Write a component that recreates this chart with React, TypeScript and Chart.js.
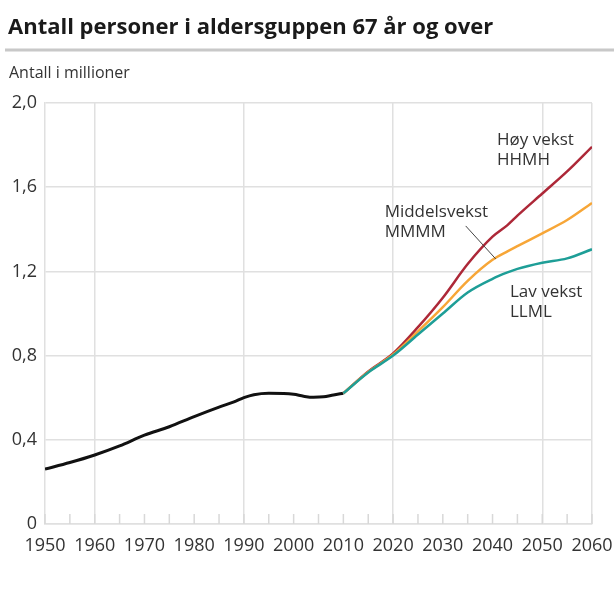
import { useEffect, useRef } from 'react';
import { Chart, registerables } from 'chart.js';

Chart.register(...registerables);

const TITLE = 'Antall personer i aldersguppen 67 år og over';
const Y_TITLE = 'Antall i millioner';

// Historical series (millions)
const histYears = [1950, 1955, 1960, 1965, 1970, 1975, 1980, 1985, 1988, 1990, 1992, 1995, 1998, 2000, 2002, 2004, 2006, 2008, 2010];
const histValues = [0.261, 0.292, 0.328, 0.371, 0.422, 0.462, 0.51, 0.555, 0.58, 0.6, 0.614, 0.621, 0.62, 0.616, 0.607, 0.602, 0.604, 0.613, 0.621];

// Projections
const projYears = [2010, 2015, 2020, 2025, 2030, 2035, 2040, 2043, 2045, 2050, 2055, 2060];
const highValues = [0.621, 0.725, 0.81, 0.935, 1.075, 1.235, 1.365, 1.42, 1.465, 1.57, 1.675, 1.792];
const midValues = [0.621, 0.722, 0.805, 0.915, 1.03, 1.155, 1.255, 1.295, 1.32, 1.381, 1.444, 1.525];
const lowValues = [0.621, 0.72, 0.8, 0.9, 1.0, 1.1, 1.165, 1.195, 1.212, 1.241, 1.262, 1.305];

// Axis ticks
const xLabelYears = [1950, 1960, 1970, 1980, 1990, 2000, 2010, 2020, 2030, 2040, 2050, 2060];
const xGridYears = [1960, 1990, 2020, 2050, 2060];
const yTickValues = [0, 0.4, 0.8, 1.2, 1.6, 2.0];

// Annotations anchored in data units
const annotations = [
  { lines: ['Høy vekst', 'HHMH'], year: 2040.9, value: 1.824 },
  { lines: ['Middelsvekst', 'MMMM'], year: 2018.3, value: 1.482 },
  { lines: ['Lav vekst', 'LLML'], year: 2043.5, value: 1.102 },
];
const leaderFrom = [2034.6, 1.416];
const leaderTo = [2040.65, 1.259];

const FONT = '"Open Sans", "DejaVu Sans", sans-serif';
const TEXT = '#333333';
const GRID = '#e0e0e0';

const toXY = (xs: number[], ys: number[]) => xs.map((x, i) => ({ x, y: ys[i] }));

export default function App() {
  const ref = useRef<HTMLCanvasElement | null>(null);

  useEffect(() => {
    if (!ref.current) return;
    const decor = {
      id: 'decor',
      beforeDraw(chart: any) {
        const ctx = chart.ctx;
        ctx.save();
        ctx.fillStyle = '#1a1a1a';
        ctx.font = `bold 22px ${FONT}`;
        ctx.textBaseline = 'middle';
        ctx.textAlign = 'left';
        ctx.fillText(TITLE, 8, 28);
        ctx.strokeStyle = '#c8c8c8';
        ctx.lineWidth = 3;
        ctx.beginPath();
        ctx.moveTo(5, 50);
        ctx.lineTo(614, 50);
        ctx.stroke();
        ctx.fillStyle = TEXT;
        ctx.font = `16px ${FONT}`;
        ctx.fillText(Y_TITLE, 9, 73);
        ctx.restore();
      },
      afterDraw(chart: any) {
        const ctx = chart.ctx;
        const xs = chart.scales.x;
        const ys = chart.scales.y;
        const bottom = chart.chartArea.bottom;
        ctx.save();
        ctx.strokeStyle = '#d8d8d8';
        ctx.lineWidth = 1.5;
        for (let v = xs.min; v <= xs.max; v += 5) {
          const px = xs.getPixelForValue(v);
          ctx.beginPath();
          ctx.moveTo(px, bottom);
          ctx.lineTo(px, bottom - 10);
          ctx.stroke();
        }
        ctx.fillStyle = TEXT;
        ctx.font = `17px ${FONT}`;
        ctx.textBaseline = 'middle';
        ctx.textAlign = 'left';
        annotations.forEach((a) => {
          const px = xs.getPixelForValue(a.year);
          const py = ys.getPixelForValue(a.value);
          a.lines.forEach((t, i) => ctx.fillText(t, px, py + i * 20));
        });
        ctx.strokeStyle = '#444';
        ctx.lineWidth = 1;
        ctx.beginPath();
        ctx.moveTo(xs.getPixelForValue(leaderFrom[0]), ys.getPixelForValue(leaderFrom[1]));
        ctx.lineTo(xs.getPixelForValue(leaderTo[0]), ys.getPixelForValue(leaderTo[1]));
        ctx.stroke();
        ctx.restore();
      },
    };

    const line = { pointRadius: 0, cubicInterpolationMode: 'monotone', fill: false };
    const chart = new Chart(ref.current, {
      type: 'line',
      data: {
        datasets: [
          { label: 'Lav vekst LLML', data: toXY(projYears, lowValues), borderColor: '#1e9e97', borderWidth: 2.5, ...line },
          { label: 'Middelsvekst MMMM', data: toXY(projYears, midValues), borderColor: '#f7a637', borderWidth: 2.5, ...line },
          { label: 'Høy vekst HHMH', data: toXY(projYears, highValues), borderColor: '#ad2838', borderWidth: 2.5, ...line },
          { label: 'Registrert', data: toXY(histYears, histValues), borderColor: '#111111', borderWidth: 3, ...line },
        ],
      },
      options: {
        responsive: false,
        animation: false,
        layout: { padding: { top: 103, right: 22, left: 0, bottom: 0 } },
        plugins: { legend: { display: false }, tooltip: { enabled: false }, title: { display: false } },
        scales: {
          x: {
            type: 'linear',
            min: 1950,
            max: 2060,
            afterFit: (s: any) => { s.height = 90; s.paddingLeft = 0; s.paddingRight = 0; },
            afterBuildTicks: (s: any) => { s.ticks = [];
              for (let v = 1950; v <= 2060; v += 5) s.ticks.push({ value: v }); },
            ticks: {
              autoSkip: false,
              maxRotation: 0,
              padding: 11,
              color: TEXT,
              font: { family: FONT, size: 18 },
              callback: (v: any) => (xLabelYears.includes(Number(v)) ? String(v) : ''),
            },
            grid: {
              drawTicks: false,
              lineWidth: 1.5,
              color: (c: any) => (c.tick && xGridYears.includes(c.tick.value) ? GRID : 'rgba(0,0,0,0)'),
            },
            border: { display: true, color: GRID, width: 1.5 },
          },
          y: {
            min: 0,
            max: 2,
            afterFit: (s: any) => { s.width = 45; s.paddingTop = 0; s.paddingBottom = 0; },
            afterBuildTicks: (s: any) => { s.ticks = yTickValues.map((v) => ({ value: v })); },
            ticks: {
              padding: 8,
              color: TEXT,
              font: { family: FONT, size: 18 },
              callback: (v: any) => (Number(v) === 0 ? '0' : Number(v).toFixed(1).replace('.', ',')),
            },
            grid: { drawTicks: false, lineWidth: 1.5, color: GRID },
            border: { display: true, color: GRID, width: 1.5 },
          },
        },
      },
      plugins: [decor],
    } as any);
    return () => chart.destroy();
  }, []);

  return (
    <div style={{ position: 'absolute', left: 0, top: 0, width: 614, height: 614, background: '#fff' }}>
      <canvas ref={ref} width={614} height={614} style={{ display: 'block' }} />
    </div>
  );
}
